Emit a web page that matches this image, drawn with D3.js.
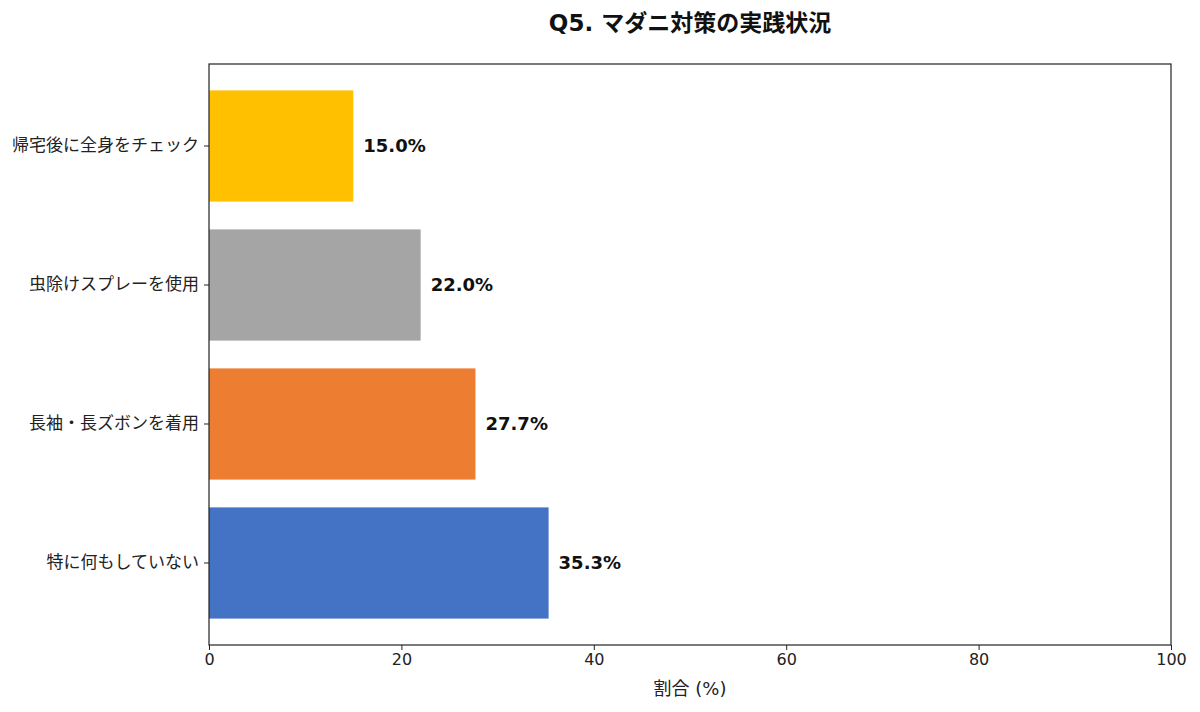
<!DOCTYPE html>
<html>
<head>
<meta charset="utf-8">
<script src="https://cdn.jsdelivr.net/npm/d3@7"></script>
<style>
  body { margin: 0; background: #fff; }
  text { font-family: "DejaVu Sans", "Noto Sans CJK JP", sans-serif; }
</style>
</head>
<body>
<svg id="chart" width="1200" height="712"></svg>
<script>
const categories = ["帰宅後に全身をチェック", "虫除けスプレーを使用", "長袖・長ズボンを着用", "特に何もしていない"];
const values = [15.0, 22.0, 27.7, 35.3];
const colors = ["#FFC000", "#A5A5A5", "#ED7D31", "#4472C4"];
const xTicks = [0, 20, 40, 60, 80, 100];

const svg = d3.select("#chart"),
  width = +svg.attr("width"),
  height = +svg.attr("height");

const font = "'DejaVu Sans', 'Noto Sans CJK JP', sans-serif";
const margin = {top: 64, right: 29, bottom: 67, left: 209};

const x = d3.scaleLinear()
  .domain([0, 100])
  .range([margin.left, width - margin.right]);

const y = d3.scaleBand()
  .domain(categories)
  .range([margin.top, height - margin.bottom])
  .paddingInner(0.2)
  .paddingOuter(0.19);

// bars
svg.append("g")
  .selectAll("rect")
  .data(categories)
  .join("rect")
    .attr("x", x(0))
    .attr("y", d => y(d))
    .attr("width", (d, i) => x(values[i]) - x(0))
    .attr("height", y.bandwidth())
    .attr("fill", (d, i) => colors[i]);

// value labels
svg.append("g")
  .selectAll("text")
  .data(categories)
  .join("text")
    .attr("x", (d, i) => x(values[i]) + 10)
    .attr("y", d => y(d) + y.bandwidth() / 2)
    .attr("dy", "0.36em")
    .attr("font-size", 18)
    .attr("font-weight", "bold")
    .attr("fill", "#111")
    .text((d, i) => values[i].toFixed(1) + "%");

// frame
svg.append("rect")
  .attr("x", margin.left)
  .attr("y", margin.top)
  .attr("width", width - margin.left - margin.right)
  .attr("height", height - margin.top - margin.bottom)
  .attr("fill", "none")
  .attr("stroke", "#222")
  .attr("stroke-width", 1.2);

function xAxis(g) {
  g.attr("transform", `translate(0, ${height - margin.bottom})`)
    .call(d3.axisBottom(x).tickValues(xTicks).tickSize(5).tickPadding(4))
    .call(g => g.select(".domain").remove())
    .attr("font-size", 16);
  g.selectAll("text").attr("fill", "#222").style("font-family", font);
  g.selectAll("line").attr("stroke", "#222");
}

function yAxis(g) {
  g.attr("transform", `translate(${margin.left}, 0)`)
    .call(d3.axisLeft(y).tickSize(5).tickPadding(5))
    .call(g => g.select(".domain").remove())
    .attr("font-size", 17);
  g.selectAll("text").attr("fill", "#222").style("font-family", font);
  g.selectAll("line").attr("stroke", "#222");
}

svg.append("g").call(xAxis);
svg.append("g").call(yAxis);

// x axis title
svg.append("text")
  .attr("x", (margin.left + width - margin.right) / 2)
  .attr("y", 695)
  .attr("text-anchor", "middle")
  .attr("font-size", 18)
  .attr("fill", "#222")
  .text("割合 (%)");

// chart title
svg.append("text")
  .attr("x", (margin.left + width - margin.right) / 2)
  .attr("y", 31)
  .attr("text-anchor", "middle")
  .attr("font-size", 23)
  .attr("font-weight", "bold")
  .attr("fill", "#111")
  .text("Q5. マダニ対策の実践状況");
</script>
</body>
</html>
